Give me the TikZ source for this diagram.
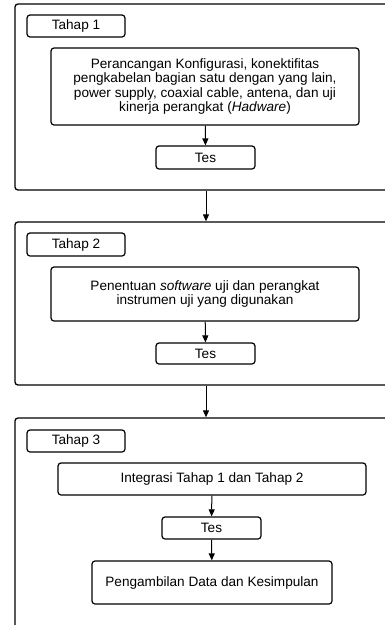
\documentclass[tikz,border=0pt]{standalone}
\usepackage{fontspec}
\setmainfont{Liberation Sans}
\usetikzlibrary{arrows.meta}

\begin{document}
\begin{tikzpicture}[x=1pt, y=-1pt,
  font=\fontsize{13.6}{14.4}\selectfont,
  stage/.style={draw, line width=1.3pt, rounded corners=3pt, inner sep=0pt},
  box/.style={draw, line width=1.2pt, rounded corners=3pt, align=center, inner sep=0pt},
  arr/.style={line width=1pt, -{Triangle[length=7pt,width=6pt]}}]
\useasboundingbox (0,0) rectangle (385,625);
\clip (0,0) rectangle (385,625);
% Tahap 1
\node[stage, minimum width=382pt, minimum height=186pt] (stage1) at (206,97) {};
\node[box, minimum width=98pt, minimum height=22pt] (tahap1) at (76,26) {Tahap 1};
\node[box, minimum width=308pt, minimum height=77pt] (desain) at (205,86.5) {Perancangan Konfigurasi, konektifitas\\pengkabelan bagian satu dengan yang lain,\\power supply, coaxial cable, antena, dan uji\\kinerja perangkat (\textit{Hadware})};
\node[box, minimum width=99pt, minimum height=23pt] (tes1) at (205.5,157.5) {Tes};
% Tahap 2
\node[stage, minimum width=382pt, minimum height=163pt] (stage2) at (206,303.5) {};
\node[box, minimum width=98pt, minimum height=23pt] (tahap2) at (76,244.5) {Tahap 2};
\node[box, minimum width=308pt, minimum height=54pt] (software) at (205,294) {Penentuan \textit{software} uji dan perangkat\\instrumen uji yang digunakan};
\node[box, minimum width=99pt, minimum height=21pt] (tes2) at (205.5,353.5) {Tes};
% Tahap 3
\node[stage, minimum width=382pt, minimum height=222pt] (stage3) at (206,529) {};
\node[box, minimum width=98pt, minimum height=22pt] (tahap3) at (76,441) {Tahap 3};
\node[box, minimum width=308pt, minimum height=32pt] (integrasi) at (212,479) {Integrasi Tahap 1 dan Tahap 2};
\node[box, minimum width=99pt, minimum height=22pt] (tes3) at (211.5,528) {Tes};
\node[box, minimum width=240pt, minimum height=43pt] (data) at (212,582.5) {Pengambilan Data dan Kesimpulan};
% panah
\draw[arr] (desain) -- (tes1);
\draw[arr] (stage1) -- (stage2);
\draw[arr] (software) -- (tes2);
\draw[arr] (stage2) -- (stage3);
\draw[arr] (integrasi) -- (tes3);
\draw[arr] (tes3) -- (data);
\end{tikzpicture}
\end{document}
